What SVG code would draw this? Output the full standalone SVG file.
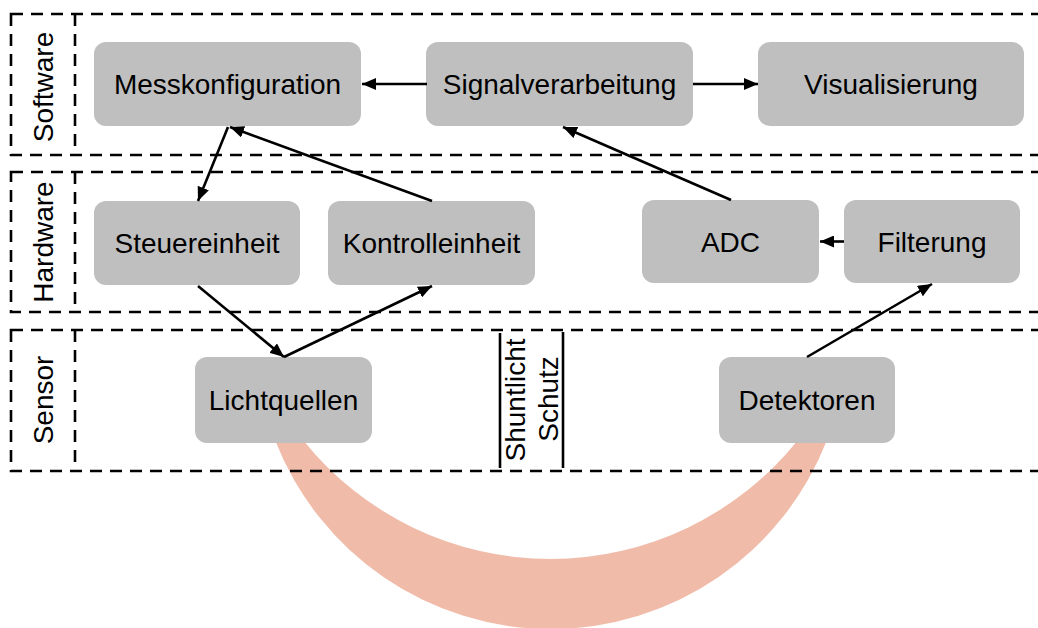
<svg xmlns="http://www.w3.org/2000/svg" width="1038" height="628" viewBox="0 0 1038 628">
  <style>
    .band { fill: none; stroke: #000; stroke-width: 2.6; stroke-dasharray: 12 8; }
    .node rect { fill: #BFBFBF; }
    text { font-family: "Liberation Sans", Arial, sans-serif; font-size: 28px; fill: #000; text-anchor: middle; }
    .conn line { stroke: #000; stroke-width: 2.6; marker-end: url(#arrow); }
    .bar { stroke: #000; stroke-width: 2.6; }
  </style>
  <defs>
    <marker id="arrow" markerUnits="userSpaceOnUse" markerWidth="14" markerHeight="12" refX="14" refY="6" orient="auto">
      <path d="M0,0 L14,6 L0,12 z" fill="#000"/>
    </marker>
  </defs>

  <!-- optical path between light source and detector -->
  <path id="lightpath" d="M275,440 A296,296 0 0 0 827,440 L798,440 A317,317 0 0 1 303,440 Z" fill="#F0BBA9"/>

  <!-- layer bands -->
  <g id="bands">
    <rect class="band" x="11" y="14" width="1045" height="141"/>
    <line class="band" x1="75" y1="14" x2="75" y2="155"/>
    <rect class="band" x="11" y="172" width="1045" height="140"/>
    <line class="band" x1="75" y1="172" x2="75" y2="312"/>
    <rect class="band" x="11" y="330" width="1045" height="141"/>
    <line class="band" x1="75" y1="330" x2="75" y2="471"/>
    <text transform="translate(53,87) rotate(-90)">Software</text>
    <text transform="translate(53,242) rotate(-90)">Hardware</text>
    <text transform="translate(53,400) rotate(-90)">Sensor</text>
  </g>

  <!-- shunt light shield -->
  <g id="shield">
    <line class="bar" x1="500" y1="333" x2="500" y2="468"/>
    <line class="bar" x1="563" y1="332" x2="563" y2="468"/>
    <text transform="translate(525,400) rotate(-90)">Shuntlicht</text>
    <text transform="translate(558,399) rotate(-90)">Schutz</text>
  </g>

  <!-- software layer -->
  <g id="messkonfiguration" class="node">
    <rect x="94" y="42" width="267" height="84" rx="12"/>
    <text x="227.5" y="94">Messkonfiguration</text>
  </g>
  <g id="signalverarbeitung" class="node">
    <rect x="426" y="42" width="267" height="84" rx="12"/>
    <text x="559.5" y="94">Signalverarbeitung</text>
  </g>
  <g id="visualisierung" class="node">
    <rect x="758" y="42" width="266" height="84" rx="12"/>
    <text x="891" y="94">Visualisierung</text>
  </g>

  <!-- hardware layer -->
  <g id="steuereinheit" class="node">
    <rect x="94" y="201" width="206" height="84" rx="12"/>
    <text x="197" y="253">Steuereinheit</text>
  </g>
  <g id="kontrolleinheit" class="node">
    <rect x="328" y="201" width="207" height="84" rx="12"/>
    <text x="431.5" y="253">Kontrolleinheit</text>
  </g>
  <g id="adc" class="node">
    <rect x="642" y="200" width="177" height="83" rx="12"/>
    <text x="730.5" y="251.5">ADC</text>
  </g>
  <g id="filterung" class="node">
    <rect x="844" y="200" width="176" height="83" rx="12"/>
    <text x="932" y="251.5">Filterung</text>
  </g>

  <!-- sensor layer -->
  <g id="lichtquellen" class="node">
    <rect x="195" y="357" width="177" height="86" rx="12"/>
    <text x="283.5" y="410">Lichtquellen</text>
  </g>
  <g id="detektoren" class="node">
    <rect x="719" y="357" width="176" height="86" rx="12"/>
    <text x="807" y="410">Detektoren</text>
  </g>

  <!-- connectors -->
  <g id="connectors" class="conn">
    <line x1="427" y1="84" x2="362" y2="84"/>
    <line x1="693" y1="84" x2="758" y2="84"/>
    <line x1="228" y1="127" x2="198" y2="201"/>
    <line x1="432" y1="201" x2="230" y2="127"/>
    <line x1="198" y1="286" x2="284" y2="357"/>
    <line x1="284" y1="357" x2="432" y2="286"/>
    <line x1="731" y1="200" x2="563" y2="127"/>
    <line x1="844" y1="241.5" x2="820" y2="241.5"/>
    <line x1="807" y1="357" x2="932" y2="284"/>
  </g>
</svg>
